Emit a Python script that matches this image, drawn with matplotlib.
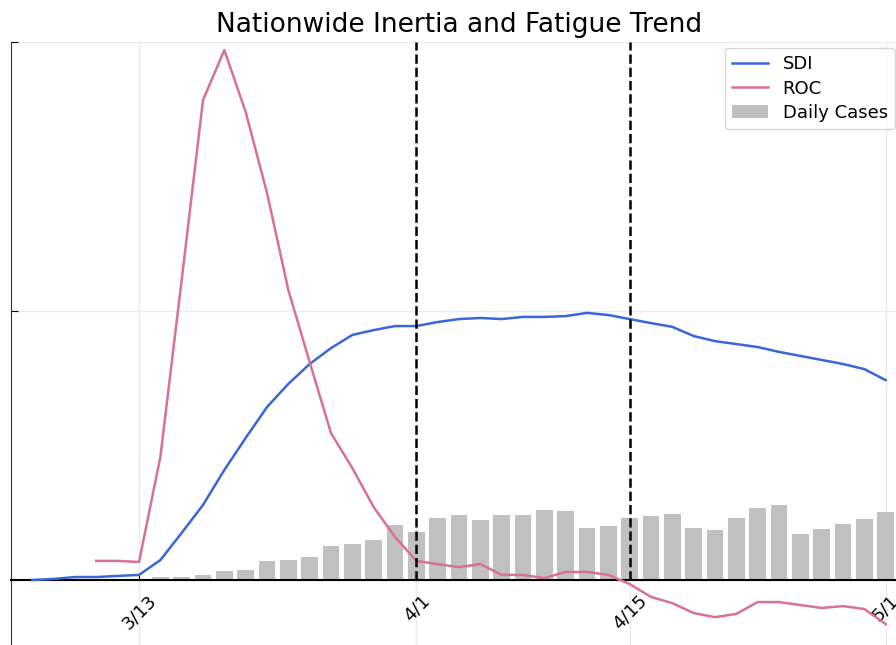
import matplotlib.pyplot as plt
import numpy as np
import pandas as pd

# business days, 3/6 .. 5/1
dates = pd.bdate_range('2020-03-06', '2020-05-01')
tick_labels = ['3/13', '4/1', '4/15', '5/1']
event_labels = ['4/1', '4/15']

sdi = [0.000, 0.004, 0.011, 0.011, 0.015, 0.019, 0.074, 0.175, 0.279, 0.409,
       0.528, 0.643, 0.729, 0.803, 0.862, 0.911, 0.929, 0.944, 0.944, 0.959,
       0.970, 0.974, 0.970, 0.978, 0.978, 0.981, 0.993, 0.985, 0.970, 0.955,
       0.941, 0.907, 0.888, 0.877, 0.866, 0.848, 0.833, 0.818, 0.803, 0.784,
       0.743]

# ROC starts on 3/11
roc = [np.nan, np.nan, np.nan,
       0.071, 0.071, 0.067, 0.457, 1.115, 1.784, 1.970, 1.740, 1.439, 1.078,
       0.810, 0.546, 0.416, 0.271, 0.160, 0.071, 0.059, 0.048, 0.059, 0.019,
       0.019, 0.007, 0.030, 0.030, 0.019, -0.015, -0.063, -0.086, -0.123,
       -0.138, -0.126, -0.082, -0.082, -0.093, -0.104, -0.097, -0.108, -0.164]

cases = [0, 0, 0, 0, 0,
         0.004, 0.011, 0.011, 0.019, 0.033, 0.037, 0.071, 0.074, 0.086, 0.126,
         0.134, 0.149, 0.204, 0.178, 0.230, 0.242, 0.223, 0.242, 0.242, 0.260,
         0.257, 0.193, 0.201, 0.230, 0.238, 0.245, 0.193, 0.186, 0.230, 0.268,
         0.279, 0.171, 0.190, 0.208, 0.227, 0.253]

labels = [f'{d.month}/{d.day}' for d in dates]
x = np.arange(len(labels))

fig = plt.figure(figsize=(8.96, 6.45), dpi=100)
ax = fig.add_axes([11 / 896, 0.0, 896 / 896, 603 / 645])

ax.spines['top'].set_visible(False)
ax.spines['right'].set_visible(False)
ax.spines['bottom'].set_position(('data', 0))
ax.spines['bottom'].set_linewidth(1.5)
ax.spines['left'].set_color('#333333')

ax.bar(x, cases, width=0.78, color='#c0c0c0', label='Daily Cases', zorder=2)
ax.plot(x, sdi, color='#3a67d8', lw=1.8, label='SDI', zorder=3)
ax.plot(x, roc, color='#d9709a', lw=1.8, label='ROC', zorder=3)

for lab in event_labels:
    ax.vlines(labels.index(lab), 0, 2, color='black', ls='--', lw=1.8, zorder=4)

ax.set_xlim(-1, 41)
ax.set_ylim(-65 / 269, 2.0)

ax.set_xticks([labels.index(t) for t in tick_labels])
ax.set_xticklabels(tick_labels)
ax.set_yticks([0, 1, 2])
ax.set_yticklabels([])
ax.tick_params(axis='x', direction='in', length=4, pad=8, labelsize=13,
               labelrotation=45)
ax.tick_params(axis='y', direction='in', length=5)

ax.grid(True, color='#ebebeb', lw=1, zorder=0)
ax.set_axisbelow(True)

ax.set_title('Nationwide Inertia and Fatigue Trend', fontsize=19, pad=7)

h, l = ax.get_legend_handles_labels()
order = [l.index('SDI'), l.index('ROC'), l.index('Daily Cases')]
ax.legend([h[i] for i in order], [l[i] for i in order], loc='upper right',
          fontsize=13, labelspacing=0.35, borderaxespad=0,
          bbox_to_anchor=(895 / 896, 1 - 48 / 645), bbox_transform=fig.transFigure)

fig.savefig('out.png', dpi=100)
